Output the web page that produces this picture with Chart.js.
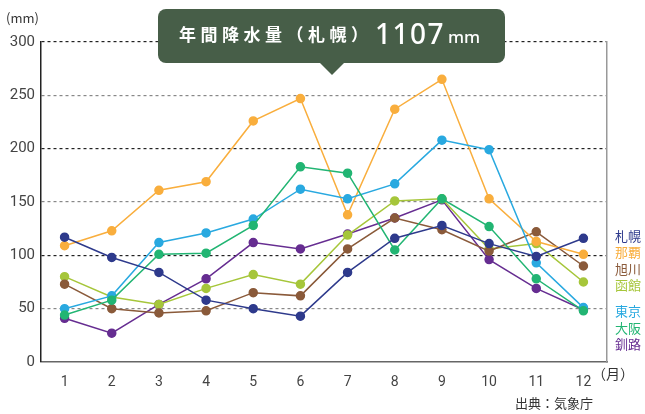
<!DOCTYPE html>
<html>
<head>
<meta charset="utf-8">
<script src="https://cdn.jsdelivr.net/npm/chart.js@4/dist/chart.umd.min.js"></script>
<style>
  body { margin: 0; background: #fff; font-family: "Noto Sans CJK JP", "Noto Sans", sans-serif; }
  #wrap { position: relative; width: 645px; height: 414px; }
  canvas { position: absolute; left: 0; top: 0; }
  .lbl { position: absolute; color: #333; white-space: nowrap; }
  #badge { position: absolute; left: 158px; top: 9px; width: 347px; height: 54px; background: #475e48; border-radius: 8px; color: #fff; }
  #badge .t { position: absolute; left: 21px; top: 12px; font-size: 17px; font-weight: bold; letter-spacing: 4.5px; }
  #badge .n { position: absolute; left: 217px; top: 5px; font-size: 28px; font-weight: 500; letter-spacing: 1.5px; font-family: "Noto Sans", sans-serif; }
  #badge .u { position: absolute; left: 290px; top: 16px; font-size: 17px; font-weight: 500; font-family: "Noto Sans", sans-serif; }
  #arrow { position: absolute; left: 319px; top: 62px; width: 0; height: 0; border-left: 13px solid transparent; border-right: 13px solid transparent; border-top: 13px solid #475e48; }
  #legend div { position: absolute; left: 615px; font-size: 13px; line-height: 16px; }
</style>
</head>
<body>
<div id="wrap">
  <canvas id="c" width="645" height="414"></canvas>
  <div class="lbl" style="left:6px; top:8px; font-size:13px;">(mm)</div>
  <div class="lbl" style="left:592px; top:363px; font-size:14px;">（月）</div>
  <div class="lbl" style="left:515px; top:393px; font-size:13px;">出典：気象庁</div>
  <div id="badge"><span class="t">年間降水量（札幌）</span><span class="n">1107</span><span class="u">mm</span></div>
  <div id="arrow"></div>
  <div id="legend"></div>
</div>
<script>
// months and tick labels
const months = ['1', '2', '3', '4', '5', '6', '7', '8', '9', '10', '11', '12'];
const yTicks = [0, 50, 100, 150, 200, 250, 300];

// monthly precipitation (mm)
const sapporo = [117, 98, 84, 58, 50, 43, 84, 116, 128, 111, 99, 116];
const naha = [109, 123, 161, 169, 226, 247, 138, 237, 265, 153, 113, 101];
const asahikawa = [73, 50, 46, 48, 65, 62, 106, 135, 124, 104, 122, 90];
const hakodate = [80, 61, 54, 69, 82, 73, 119, 151, 153, 106, 111, 75];
const tokyo = [50, 62, 112, 121, 134, 162, 153, 167, 208, 199, 93, 51];
const osaka = [44, 58, 101, 102, 128, 183, 177, 105, 153, 127, 78, 48];
const kushiro = [41, 27, 54, 78, 112, 106, 120, 135, 152, 96, 69, 49];

const cities = ['札幌', '那覇', '旭川', '函館', '東京', '大阪', '釧路'];
const colors = ['#2e3a8c', '#f9ae3d', '#8a5a3a', '#a6c63a', '#29a9e0', '#22b573', '#662d91'];
const series = [sapporo, naha, asahikawa, hakodate, tokyo, osaka, kushiro];
const drawOrder = [0, 3, 4, 5, 2, 1, 6];

// legend on the right
const legendTops = [228, 244, 261, 277, 303, 320, 336];
const legend = document.getElementById('legend');
cities.forEach((name, i) => {
    const d = document.createElement('div');
    d.textContent = name;
    d.style.top = legendTops[i] + 'px';
    d.style.color = colors[i];
    legend.appendChild(d);
});

const datasets = series.map((data, i) => ({
    label: cities[i],
    data: data,
    borderColor: colors[i],
    backgroundColor: colors[i],
    pointBackgroundColor: colors[i],
    pointBorderColor: colors[i],
    pointRadius: 4,
    borderWidth: 1.5,
    tension: 0,
    order: drawOrder[i]
}));

new Chart(document.getElementById('c'), {
    type: 'line',
    data: { labels: months, datasets: datasets },
    options: {
        responsive: false,
        animation: false,
        events: [],
        layout: { padding: { top: 42, right: 38, left: 0, bottom: 0 } },
        plugins: { legend: { display: false }, tooltip: { enabled: false } },
        scales: {
            x: {
                offset: true,
                grid: { display: false },
                border: { color: '#666', width: 1.5 },
                ticks: { color: '#444', font: { size: 14, family: 'Roboto' }, padding: 4 },
                afterFit: s => { s.height = 52; }
            },
            y: {
                min: 0, max: 300,
                afterBuildTicks: s => { s.ticks = yTicks.map(v => ({ value: v })); },
                border: { color: '#222', width: 1.5, dash: [3, 3] },
                grid: {
                    drawTicks: false,
                    color: ctx => (ctx.tick && ctx.tick.value % 100 === 0) ? '#222' : '#888',
                    lineWidth: ctx => (ctx.tick && ctx.tick.value === 0) ? 0 : 1.2
                },
                ticks: { color: '#444', font: { size: 15, family: 'Roboto' }, padding: 6 },
                afterFit: s => { s.width = 41; }
            },
            y2: {
                position: 'right',
                min: 0, max: 300,
                grid: { display: false },
                border: { color: '#999', width: 1.5 },
                ticks: { display: false },
                afterFit: s => { s.width = 0; }
            }
        }
    }
});
</script>
</body>
</html>
